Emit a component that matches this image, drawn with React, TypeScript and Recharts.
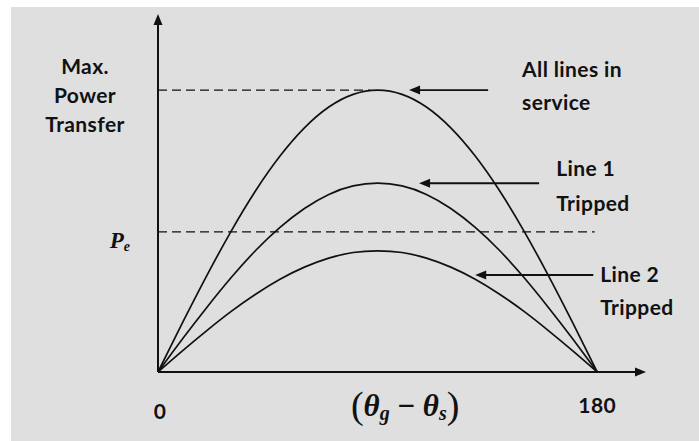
import React from "react";
import { LineChart, Line, XAxis, YAxis, ReferenceLine, ReferenceDot } from "recharts";

// load angle (degrees)
const angles = [0, 10, 20, 30, 40, 50, 60, 70, 80, 90, 100, 110, 120, 130, 140, 150, 160, 170, 180];
// power transfer (per unit of the all-lines peak)
const allLines = [0, 0.174, 0.342, 0.5, 0.643, 0.766, 0.866, 0.94, 0.985, 1.0, 0.985, 0.94, 0.866, 0.766, 0.643, 0.5, 0.342, 0.174, 0];
const line1Tripped = [0, 0.117, 0.229, 0.335, 0.431, 0.513, 0.58, 0.63, 0.66, 0.67, 0.66, 0.63, 0.58, 0.513, 0.431, 0.335, 0.229, 0.117, 0];
const line2Tripped = [0, 0.075, 0.147, 0.215, 0.276, 0.329, 0.372, 0.404, 0.424, 0.43, 0.424, 0.404, 0.372, 0.329, 0.276, 0.215, 0.147, 0.075, 0];

const pMax = 1.0;
const pE = 0.497;
const xTicks = ["0", "180"];

const data = angles.map((a, i) => ({ a, all: allLines[i], l1: line1Tripped[i], l2: line2Tripped[i] }));

const SANS = "Lato, 'Open Sans', sans-serif";
const SERIF = "'Liberation Serif', 'DejaVu Serif', serif";
const INK = "#111";

const txt = (key: string, x: number, y: number, content: React.ReactNode, opts: any = {}) => (
  <ReferenceDot
    key={key}
    x={x}
    y={y}
    r={0}
    ifOverflow="visible"
    isFront
    shape={(p: any) => (
      <text
        x={p.cx}
        y={p.cy}
        textAnchor={opts.anchor || "start"}
        dominantBaseline="central"
        fontFamily={opts.family || SANS}
        fontSize={opts.size || 21}
        fontWeight={opts.weight || 700}
        fontStyle={opts.style || "normal"}
        letterSpacing={opts.ls ?? 0.4}
        fill={INK}
      >
        {content}
      </text>
    )}
  />
);

const arrowLeft = (key: string, x: number, y: number) => (
  <ReferenceDot
    key={key}
    x={x}
    y={y}
    r={0}
    ifOverflow="visible"
    isFront
    shape={(p: any) => (
      <polygon points={`${p.cx},${p.cy} ${p.cx + 11},${p.cy - 4.5} ${p.cx + 11},${p.cy + 4.5}`} fill={INK} />
    )}
  />
);

export default function App() {
  return (
    <div style={{ position: "absolute", left: 0, top: 0, width: 699, height: 441, background: "#fff" }}>
      <div style={{ position: "absolute", left: 11, top: 7, right: 0, bottom: 0, background: "#dfdfdf" }} />
      <div style={{ position: "absolute", left: 0, top: 0 }}>
        <LineChart width={699} height={441} data={data} margin={{ top: 14, right: 53, bottom: 69, left: 158 }}>
          <XAxis dataKey="a" type="number" domain={[0, 200]} hide allowDataOverflow />
          <YAxis type="number" domain={[0, 1.27]} hide allowDataOverflow />

          {/* axes */}
          <ReferenceLine segment={[{ x: 0, y: 0 }, { x: 196, y: 0 }]} stroke={INK} strokeWidth={2} ifOverflow="visible" />
          <ReferenceLine segment={[{ x: 0, y: 0 }, { x: 0, y: 1.24 }]} stroke={INK} strokeWidth={2} ifOverflow="visible" />
          <ReferenceDot x={200} y={0} r={0} ifOverflow="visible" shape={(p: any) => (
            <polygon points={`${p.cx},${p.cy} ${p.cx - 11},${p.cy - 4.5} ${p.cx - 11},${p.cy + 4.5}`} fill={INK} />
          )} />
          <ReferenceDot x={0} y={1.27} r={0} ifOverflow="visible" shape={(p: any) => (
            <polygon points={`${p.cx},${p.cy} ${p.cx - 4.5},${p.cy + 11} ${p.cx + 4.5},${p.cy + 11}`} fill={INK} />
          )} />

          {/* dashed levels */}
          <ReferenceLine segment={[{ x: 0, y: pMax }, { x: 87, y: pMax }]} stroke={INK} strokeWidth={1.3} strokeDasharray="9 5" />
          <ReferenceLine segment={[{ x: 0, y: pE }, { x: 179, y: pE }]} stroke={INK} strokeWidth={1.3} strokeDasharray="9 5" />

          <Line dataKey="all" type="natural" stroke={INK} strokeWidth={1.7} dot={false} isAnimationActive={false} />
          <Line dataKey="l1" type="natural" stroke={INK} strokeWidth={1.7} dot={false} isAnimationActive={false} />
          <Line dataKey="l2" type="natural" stroke={INK} strokeWidth={1.7} dot={false} isAnimationActive={false} />

          {/* pointer arrows */}
          <ReferenceLine segment={[{ x: 106, y: 1.0 }, { x: 135.3, y: 1.0 }]} stroke={INK} strokeWidth={1.6} />
          {arrowLeft("a1", 102.9, 1.0)}
          <ReferenceLine segment={[{ x: 110, y: 0.67 }, { x: 156.2, y: 0.67 }]} stroke={INK} strokeWidth={2} />
          {arrowLeft("a2", 107, 0.67)}
          <ReferenceLine segment={[{ x: 133, y: 0.344 }, { x: 178.4, y: 0.344 }]} stroke={INK} strokeWidth={2} />
          {arrowLeft("a3", 130, 0.344)}

          {/* texts */}
          {txt("t1", -29.9, 1.089, "Max.", { anchor: "middle" })}
          {txt("t2", -29.9, 0.983, "Power", { anchor: "middle" })}
          {txt("t3", -29.9, 0.883, "Transfer", { anchor: "middle" })}
          {txt("t4", 149.2, 1.078, "All lines in")}
          {txt("t5", 149.2, 0.958, "service")}
          {txt("t6", 163.2, 0.724, "Line 1")}
          {txt("t7", 163.2, 0.603, "Tripped")}
          {txt("t8", 181.2, 0.351, "Line 2")}
          {txt("t9", 181.2, 0.234, "Tripped")}
          {txt("t10", 0.8, -0.135, xTicks[0], { anchor: "middle" })}
          {txt("t11", 180, -0.117, xTicks[1], { anchor: "middle" })}
          {txt(
            "t12",
            101.3,
            -0.117,
            <>
              <tspan fontStyle="normal" fontWeight={400} fontSize={38}>(</tspan>
              <tspan>θ</tspan>
              <tspan fontSize={20} dy={8}>g</tspan>
              <tspan dy={-8} fontStyle="normal"> − </tspan>
              <tspan>θ</tspan>
              <tspan fontSize={20} dy={8}>s</tspan>
              <tspan fontStyle="normal" fontWeight={400} fontSize={38} dy={-8}>)</tspan>
            </>,
            { anchor: "middle", family: SERIF, size: 31, style: "italic", ls: 0 }
          )}
          {txt(
            "t13",
            -15.6,
            0.47,
            <>
              <tspan>P</tspan>
              <tspan fontSize={14} dy={6}>e</tspan>
            </>,
            { anchor: "middle", family: SERIF, size: 23, style: "italic", ls: 0 }
          )}
        </LineChart>
      </div>
    </div>
  );
}
